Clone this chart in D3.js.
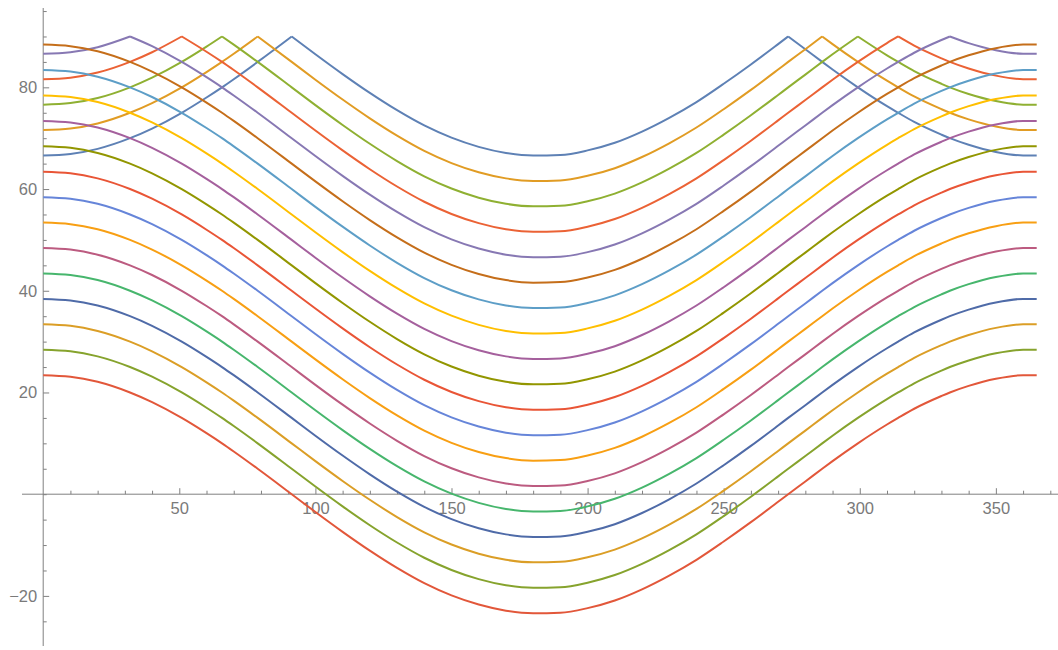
<!DOCTYPE html>
<html>
<head>
<meta charset="utf-8">
<script src="https://cdn.jsdelivr.net/npm/d3@7"></script>
<style>
  html, body { margin: 0; padding: 0; background: #fff; }
  svg { display: block; }
  .tick text { font-family: "Liberation Sans", Arial, sans-serif; font-size: 16.5px; fill: #7a7a7a; }
</style>
</head>
<body>
<svg id="chart" width="1058" height="650"></svg>
<script>
// Day of year sample points (x values), including the days where curves peak at 90
const days = [0,10,20,31.9,40,50.9,60,65.7,70,78.8,91.3,100,110,120,130,140,150,160,170,180,190,200,210,220,230,240,250,260,270,273.7,280,286.2,290,299.3,310,314.1,320,330,333.1,340,350,360,365];

// Noon solar elevation series, one per latitude (0 down to -90)
const lat0  = [66.6,66.9,67.9,70.0,71.9,75.0,78.0,80.0,81.6,85.0,90.0,86.5,82.6,78.9,75.5,72.5,70.1,68.3,67.1,66.6,66.7,67.6,69.1,71.3,74.0,77.1,80.7,84.5,88.5,90.0,87.5,85.0,83.5,80.0,76.3,75.0,73.2,70.7,70.0,68.7,67.3,66.6,66.6];
const lat5  = [71.6,71.9,72.9,75.0,76.9,80.0,83.0,85.0,86.6,90.0,85.0,81.5,77.6,73.9,70.5,67.5,65.1,63.3,62.1,61.6,61.7,62.6,64.1,66.3,69.0,72.1,75.7,79.5,83.5,85.0,87.5,90.0,88.5,85.0,81.3,80.0,78.2,75.7,75.0,73.7,72.3,71.6,71.6];
const lat10 = [76.6,76.9,77.9,80.0,81.9,85.0,88.0,90.0,88.4,85.0,80.0,76.5,72.6,68.9,65.5,62.5,60.1,58.3,57.1,56.6,56.7,57.6,59.1,61.3,64.0,67.1,70.7,74.5,78.5,80.0,82.5,85.0,86.5,90.0,86.3,85.0,83.2,80.7,80.0,78.7,77.3,76.6,76.6];
const lat15 = [81.6,81.9,82.9,85.0,86.9,90.0,87.0,85.0,83.4,80.0,75.0,71.5,67.6,63.9,60.5,57.5,55.1,53.3,52.1,51.6,51.7,52.6,54.1,56.3,59.0,62.1,65.7,69.5,73.5,75.0,77.5,80.0,81.5,85.0,88.7,90.0,88.2,85.7,85.0,83.7,82.3,81.6,81.6];
const lat20 = [86.6,86.9,87.9,90.0,88.1,85.0,82.0,80.0,78.4,75.0,70.0,66.5,62.6,58.9,55.5,52.5,50.1,48.3,47.1,46.6,46.7,47.6,49.1,51.3,54.0,57.1,60.7,64.5,68.5,70.0,72.5,75.0,76.5,80.0,83.7,85.0,86.8,89.3,90.0,88.7,87.3,86.6,86.6];
const lat25 = [88.4,88.1,87.1,85.0,83.1,80.0,77.0,75.0,73.4,70.0,65.0,61.5,57.6,53.9,50.5,47.5,45.1,43.3,42.1,41.6,41.7,42.6,44.1,46.3,49.0,52.1,55.7,59.5,63.5,65.0,67.5,70.0,71.5,75.0,78.7,80.0,81.8,84.3,85.0,86.3,87.7,88.4,88.4];
const lat30 = [83.4,83.1,82.1,80.0,78.1,75.0,72.0,70.0,68.4,65.0,60.0,56.5,52.6,48.9,45.5,42.5,40.1,38.3,37.1,36.6,36.7,37.6,39.1,41.3,44.0,47.1,50.7,54.5,58.5,60.0,62.5,65.0,66.5,70.0,73.7,75.0,76.8,79.3,80.0,81.3,82.7,83.4,83.4];
const lat35 = [78.4,78.1,77.1,75.0,73.1,70.0,67.0,65.0,63.4,60.0,55.0,51.5,47.6,43.9,40.5,37.5,35.1,33.3,32.1,31.6,31.7,32.6,34.1,36.3,39.0,42.1,45.7,49.5,53.5,55.0,57.5,60.0,61.5,65.0,68.7,70.0,71.8,74.3,75.0,76.3,77.7,78.4,78.4];
const lat40 = [73.4,73.1,72.1,70.0,68.1,65.0,62.0,60.0,58.4,55.0,50.0,46.5,42.6,38.9,35.5,32.5,30.1,28.3,27.1,26.6,26.7,27.6,29.1,31.3,34.0,37.1,40.7,44.5,48.5,50.0,52.5,55.0,56.5,60.0,63.7,65.0,66.8,69.3,70.0,71.3,72.7,73.4,73.4];
const lat45 = [68.4,68.1,67.1,65.0,63.1,60.0,57.0,55.0,53.4,50.0,45.0,41.5,37.6,33.9,30.5,27.5,25.1,23.3,22.1,21.6,21.7,22.6,24.1,26.3,29.0,32.1,35.7,39.5,43.5,45.0,47.5,50.0,51.5,55.0,58.7,60.0,61.8,64.3,65.0,66.3,67.7,68.4,68.4];
const lat50 = [63.4,63.1,62.1,60.0,58.1,55.0,52.0,50.0,48.4,45.0,40.0,36.5,32.6,28.9,25.5,22.5,20.1,18.3,17.1,16.6,16.7,17.6,19.1,21.3,24.0,27.1,30.7,34.5,38.5,40.0,42.5,45.0,46.5,50.0,53.7,55.0,56.8,59.3,60.0,61.3,62.7,63.4,63.4];
const lat55 = [58.4,58.1,57.1,55.0,53.1,50.0,47.0,45.0,43.4,40.0,35.0,31.5,27.6,23.9,20.5,17.5,15.1,13.3,12.1,11.6,11.7,12.6,14.1,16.3,19.0,22.1,25.7,29.5,33.5,35.0,37.5,40.0,41.5,45.0,48.7,50.0,51.8,54.3,55.0,56.3,57.7,58.4,58.4];
const lat60 = [53.4,53.1,52.1,50.0,48.1,45.0,42.0,40.0,38.4,35.0,30.0,26.5,22.6,18.9,15.5,12.5,10.1,8.3,7.1,6.6,6.7,7.6,9.1,11.3,14.0,17.1,20.7,24.5,28.5,30.0,32.5,35.0,36.5,40.0,43.7,45.0,46.8,49.3,50.0,51.3,52.7,53.4,53.4];
const lat65 = [48.4,48.1,47.1,45.0,43.1,40.0,37.0,35.0,33.4,30.0,25.0,21.5,17.6,13.9,10.5,7.5,5.1,3.3,2.1,1.6,1.7,2.6,4.1,6.3,9.0,12.1,15.7,19.5,23.5,25.0,27.5,30.0,31.5,35.0,38.7,40.0,41.8,44.3,45.0,46.3,47.7,48.4,48.4];
const lat70 = [43.4,43.1,42.1,40.0,38.1,35.0,32.0,30.0,28.4,25.0,20.0,16.5,12.6,8.9,5.5,2.5,0.1,-1.7,-2.9,-3.4,-3.3,-2.4,-0.9,1.3,4.0,7.1,10.7,14.5,18.5,20.0,22.5,25.0,26.5,30.0,33.7,35.0,36.8,39.3,40.0,41.3,42.7,43.4,43.4];
const lat75 = [38.4,38.1,37.1,35.0,33.1,30.0,27.0,25.0,23.4,20.0,15.0,11.5,7.6,3.9,0.5,-2.5,-4.9,-6.7,-7.9,-8.4,-8.3,-7.4,-5.9,-3.7,-1.0,2.1,5.7,9.5,13.5,15.0,17.5,20.0,21.5,25.0,28.7,30.0,31.8,34.3,35.0,36.3,37.7,38.4,38.4];
const lat80 = [33.4,33.1,32.1,30.0,28.1,25.0,22.0,20.0,18.4,15.0,10.0,6.5,2.6,-1.1,-4.5,-7.5,-9.9,-11.7,-12.9,-13.4,-13.3,-12.4,-10.9,-8.7,-6.0,-2.9,0.7,4.5,8.5,10.0,12.5,15.0,16.5,20.0,23.7,25.0,26.8,29.3,30.0,31.3,32.7,33.4,33.4];
const lat85 = [28.4,28.1,27.1,25.0,23.1,20.0,17.0,15.0,13.4,10.0,5.0,1.5,-2.4,-6.1,-9.5,-12.5,-14.9,-16.7,-17.9,-18.4,-18.3,-17.4,-15.9,-13.7,-11.0,-7.9,-4.3,-0.5,3.5,5.0,7.5,10.0,11.5,15.0,18.7,20.0,21.8,24.3,25.0,26.3,27.7,28.4,28.4];
const lat90 = [23.4,23.1,22.1,20.0,18.1,15.0,12.0,10.0,8.4,5.0,0.0,-3.5,-7.4,-11.1,-14.5,-17.5,-19.9,-21.7,-22.9,-23.4,-23.3,-22.4,-20.9,-18.7,-16.0,-12.9,-9.3,-5.5,-1.5,0.0,2.5,5.0,6.5,10.0,13.7,15.0,16.8,19.3,20.0,21.3,22.7,23.4,23.4];

const seriesList = [lat0, lat5, lat10, lat15, lat20, lat25, lat30, lat35, lat40, lat45,
                    lat50, lat55, lat60, lat65, lat70, lat75, lat80, lat85, lat90];

// Tick values
const xMajorTicks = [50, 100, 150, 200, 250, 300, 350];
const xMinorTicks = [10,20,30,40,60,70,80,90,110,120,130,140,160,170,180,190,210,220,230,240,260,270,280,290,310,320,330,340,360,370];
const yMajorTicks = [-20, 20, 40, 60, 80];
const yMinorTicks = [-25,-15,-10,-5,0,5,10,15,25,30,35,45,50,55,65,70,75,85,90,95];

const colors = ["#5E81B5","#E19C24","#8FB032","#EB6235","#8778B3","#C56E1A","#5D9EC7","#FFBF00",
                "#A5609D","#929600","#E95536","#6685D9","#F89F13","#BC5B80","#47B66D","#4F6BA8",
                "#DB9E26","#86A32D","#E2573A"];

const svg = d3.select("#chart");
const x = d3.scaleLinear().domain([0, 365]).range([43.2, 1036.7]);
const y = d3.scaleLinear().domain([-29.85, 95.6]).range([646, 8]);

// Axes lines
const axisColor = "#808080";
svg.append("line").attr("x1", 22).attr("x2", 1058).attr("y1", y(0)).attr("y2", y(0))
  .attr("stroke", axisColor).attr("stroke-width", 1);
svg.append("line").attr("x1", x(0)).attr("x2", x(0)).attr("y1", y(95.6)).attr("y2", y(-29.85))
  .attr("stroke", axisColor).attr("stroke-width", 1);

// X axis ticks
svg.append("g").attr("transform", `translate(0,${y(0)})`)
  .call(d3.axisBottom(x).tickValues(xMinorTicks).tickSizeInner(-3.5).tickSizeOuter(0).tickFormat(""));
svg.append("g").attr("transform", `translate(0,${y(0)})`)
  .call(d3.axisBottom(x).tickValues(xMajorTicks).tickSizeInner(-6).tickSizeOuter(0).tickPadding(8.5)
    .tickFormat(d3.format("d")));

// Y axis ticks
svg.append("g").attr("transform", `translate(${x(0)},0)`)
  .call(d3.axisLeft(y).tickValues(yMinorTicks).tickSizeInner(-3.5).tickSizeOuter(0).tickFormat(""));
svg.append("g").attr("transform", `translate(${x(0)},0)`)
  .call(d3.axisLeft(y).tickValues(yMajorTicks).tickSizeInner(-6).tickSizeOuter(0).tickPadding(6)
    .tickFormat(d => d < 0 ? "\u2212" + Math.abs(d) : String(d)));

svg.selectAll(".domain").remove();
svg.selectAll(".tick line").attr("stroke", axisColor);

// Split each series at its sharp peaks so smoothing keeps the corners
function segmentsOf(vals) {
  const pts = vals.map((v, i) => [days[i], v]);
  const segs = [];
  let cur = [pts[0]];
  for (let i = 1; i < pts.length; i++) {
    cur.push(pts[i]);
    if (i < pts.length - 1 && vals[i] > vals[i - 1] && vals[i] > vals[i + 1]) {
      segs.push(cur);
      cur = [pts[i]];
    }
  }
  segs.push(cur);
  return segs;
}

const line = d3.line()
  .x(d => x(d[0]))
  .y(d => y(d[1]))
  .curve(d3.curveMonotoneX);

svg.append("g").selectAll("path")
  .data(seriesList)
  .join("path")
  .attr("d", d => segmentsOf(d).map(s => line(s)).join(""))
  .attr("fill", "none")
  .attr("stroke", (d, i) => colors[i])
  .attr("stroke-width", 2)
  .attr("stroke-linejoin", "round");
</script>
</body>
</html>
